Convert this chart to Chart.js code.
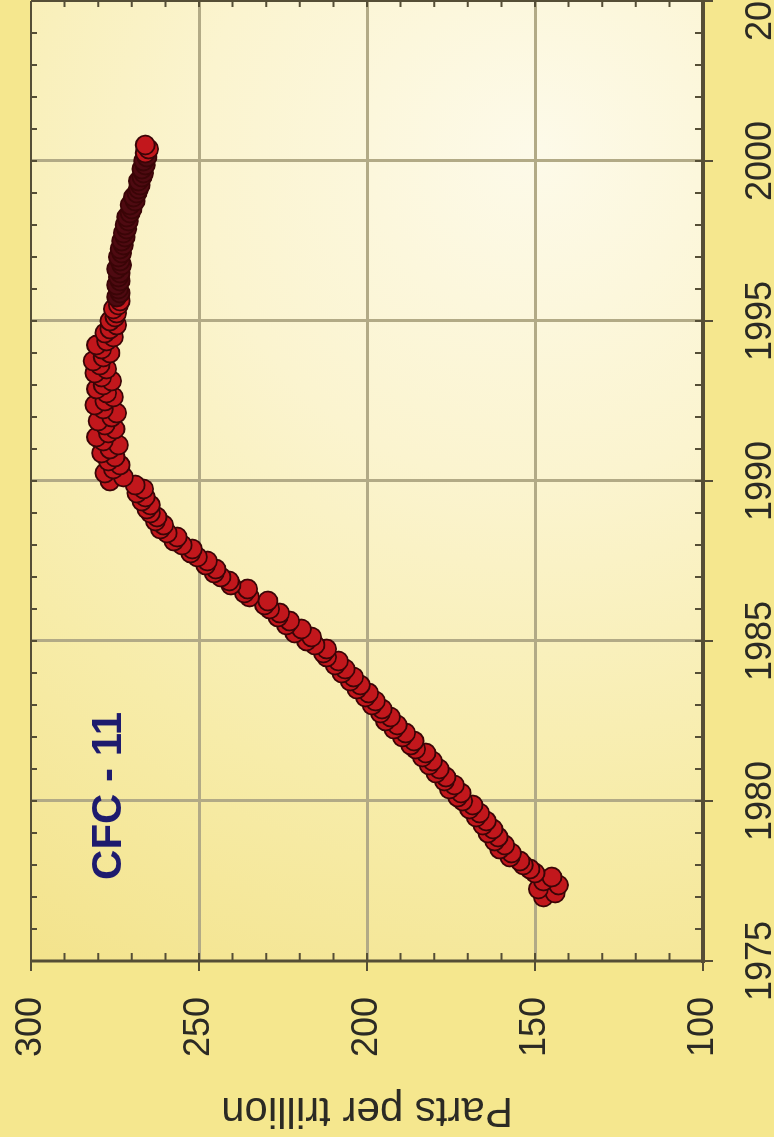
<!DOCTYPE html>
<html>
<head>
<meta charset="utf-8">
<script src="https://cdn.jsdelivr.net/npm/chart.js@4.4.1/dist/chart.umd.min.js"></script>
<style>
  html, body { margin: 0; padding: 0; width: 774px; height: 1137px; overflow: hidden; background: #f5e78e; }
  /* the chart is laid out landscape and turned a quarter turn counter-clockwise */
  #wrap { position: absolute; left: 0; top: 0; width: 1237px; height: 774px;
          transform-origin: 0 0; transform: translate(0, 1137px) rotate(-90deg); }
  canvas { display: block; }
</style>
</head>
<body>
<div id="wrap"><canvas id="cfc" width="1237" height="774"></canvas></div>
<script>
// CFC-11 mixing ratio (parts per trillion), 1977 - 2000.5, eighth-of-a-year samples

// growth years
const riseYears = [
  1977.000,1977.125,1977.250,1977.375,1977.500,1977.625,1977.750,1977.875,
  1978.000,1978.125,1978.250,1978.375,1978.500,1978.625,1978.750,1978.875,
  1979.000,1979.125,1979.250,1979.375,1979.500,1979.625,1979.750,1979.875,
  1980.000,1980.125,1980.250,1980.375,1980.500,1980.625,1980.750,1980.875,
  1981.000,1981.125,1981.250,1981.375,1981.500,1981.625,1981.750,1981.875,
  1982.000,1982.125,1982.250,1982.375,1982.500,1982.625,1982.750,1982.875,
  1983.000,1983.125,1983.250,1983.375,1983.500,1983.625,1983.750,1983.875,
  1984.000,1984.125,1984.250,1984.375,1984.500,1984.625,1984.750,1984.875,
  1985.000,1985.125,1985.250,1985.375,1985.500,1985.625,1985.750,1985.875,
  1986.000,1986.125,1986.250,1986.375,1986.500,1986.625,1986.750,1986.875,
  1987.000,1987.125,1987.250,1987.375,1987.500,1987.625,1987.750,1987.875,
  1988.000,1988.125,1988.250,1988.375,1988.500,1988.625,1988.750,1988.875,
  1989.000,1989.125,1989.250,1989.375,1989.500,1989.625,1989.750,1989.875
];
const risePpt = [
  147.5,144.0,149.0,143.0,147.5,145.0,150.0,151.5,
  153.5,154.5,157.5,157.0,160.5,159.0,162.0,161.0,
  164.0,162.5,165.5,164.5,167.5,166.5,169.5,168.5,
  171.5,173.0,172.0,175.5,174.0,177.0,176.5,179.5,
  178.5,181.5,180.5,183.5,182.5,185.5,187.0,186.0,
  189.5,188.5,192.0,191.0,194.5,193.0,196.0,195.5,
  198.5,197.5,200.5,199.5,203.0,202.0,205.0,204.0,
  207.5,206.5,209.5,208.5,212.0,213.0,212.0,215.5,
  218.0,216.5,221.5,219.5,224.0,223.0,226.5,226.0,
  229.0,230.5,229.5,235.0,236.5,235.5,240.5,241.0,
  243.5,245.5,245.0,248.0,247.5,250.5,252.5,252.0,
  255.0,257.5,256.5,259.5,261.5,260.5,263.0,262.5,
  264.5,265.5,264.5,267.0,266.0,268.5,266.5,269.0
];

// plateau years
const plateauYears = [
  1990.000,1990.125,1990.250,1990.375,1990.500,1990.625,1990.750,1990.875,
  1991.000,1991.125,1991.250,1991.375,1991.500,1991.625,1991.750,1991.875,
  1992.000,1992.125,1992.250,1992.375,1992.500,1992.625,1992.750,1992.875,
  1993.000,1993.125,1993.250,1993.375,1993.500,1993.625,1993.750,1993.875,
  1994.000,1994.125,1994.250,1994.375,1994.500,1994.625,1994.750,1994.875,
  1995.000,1995.125
];
const plateauPpt = [
  276.5,272.5,278.0,275.5,273.5,277.0,275.0,279.0,
  276.5,274.0,278.5,280.5,277.0,275.0,278.0,280.0,
  276.0,274.5,278.5,281.0,278.0,275.5,277.5,280.5,
  278.5,276.0,279.0,281.0,277.5,279.5,281.5,278.5,
  276.5,279.0,280.5,277.5,275.5,278.0,276.5,274.5,
  276.5,275.0
];

// slow decline years
const declineYears = [
  1995.250,1995.375,1995.500,1995.625,1995.750,1995.875,
  1996.000,1996.125,1996.250,1996.375,1996.500,1996.625,1996.750,1996.875,
  1997.000,1997.125,1997.250,1997.375,1997.500,1997.625,1997.750,1997.875,
  1998.000,1998.125,1998.250,1998.375,1998.500,1998.625,1998.750,1998.875,
  1999.000,1999.125,1999.250,1999.375,1999.500,1999.625,1999.750,1999.875,
  2000.000,2000.125,2000.250,2000.375,2000.500
];
const declinePpt = [
  274.5,275.5,274.0,273.5,274.5,273.5,
  274.0,274.5,273.5,274.0,273.5,274.5,273.0,273.5,
  274.0,273.0,273.5,272.5,273.0,272.0,272.5,271.5,
  272.0,271.0,271.5,270.5,270.0,270.5,269.0,269.5,
  268.5,268.0,267.5,268.0,267.0,266.5,267.0,266.0,
  266.5,265.5,266.0,265.0,266.0
];

// axis ranges and tick labels
const yearTicks = ['1975', '1980', '1985', '1990', '1995', '2000', '2005'];
const pptTicks = ['100', '150', '200', '250', '300'];
const yearRange = [1975, 2005];
const pptRange = [100, 300];
const seriesName = 'CFC - 11';
const axisTitle = 'Parts per trillion';

const years = riseYears.concat(plateauYears, declineYears);
const ppt = risePpt.concat(plateauPpt, declinePpt);
const points = years.map((yr, i) => ({ x: yr, y: ppt[i] }));

const INK = '#2b2a24';
const FRAME = '#554e36';
const GRID = '#b2aa86';
const FONT = '"Liberation Sans", Arial, Helvetica, sans-serif';

// page colour, plot-area wash, frame with tick marks and the series caption
const decor = {
  id: 'decor',
  beforeDraw(chart) {
    const { ctx, chartArea: a, scales: { x, y } } = chart;
    ctx.save();
    ctx.fillStyle = '#f5e78e';
    ctx.fillRect(0, 0, chart.width, chart.height);
    const cx = x.getPixelForValue(2000.3), cy = y.getPixelForValue(150);
    const g = ctx.createRadialGradient(cx, cy, 0, cx, cy, 950);
    g.addColorStop(0, '#fdfae9');
    g.addColorStop(0.35, '#fbf4cf');
    g.addColorStop(0.7, '#f7eca9');
    g.addColorStop(1, '#f3e38c');
    ctx.fillStyle = g;
    ctx.fillRect(a.left, a.top, a.right - a.left, a.bottom - a.top);
    ctx.restore();
  },
  beforeDatasetsDraw(chart) {
    const { ctx, chartArea: a, scales: { x, y } } = chart;
    ctx.save();
    ctx.strokeStyle = FRAME;
    ctx.lineCap = 'butt';
    // frame
    ctx.lineWidth = 2;
    ctx.beginPath();
    ctx.moveTo(a.left, a.top); ctx.lineTo(a.right, a.top);
    ctx.moveTo(a.right, a.top); ctx.lineTo(a.right, a.bottom);
    ctx.stroke();
    ctx.lineWidth = 4;
    ctx.beginPath();
    ctx.moveTo(a.left - 2, a.bottom); ctx.lineTo(a.right, a.bottom);
    ctx.stroke();
    ctx.lineWidth = 3;
    ctx.beginPath();
    ctx.moveTo(a.left, a.top); ctx.lineTo(a.left, a.bottom + 2);
    ctx.stroke();
    // yearly ticks on the time axis and along the opposite edge
    ctx.lineWidth = 2;
    ctx.beginPath();
    for (let yr = yearRange[0]; yr <= yearRange[1]; yr++) {
      const px = x.getPixelForValue(yr);
      const major = yr % 5 === 0;
      ctx.moveTo(px, a.bottom - 8);
      ctx.lineTo(px, a.bottom + (major ? 10 : 0));
      ctx.moveTo(px, a.top);
      ctx.lineTo(px, a.top + 6);
    }
    // ticks every 10 ppt on the value axis and along the opposite edge
    for (let v = pptRange[0]; v <= pptRange[1]; v += 10) {
      const py = y.getPixelForValue(v);
      const major = v % 50 === 0;
      ctx.moveTo(a.left - (major ? 10 : 0), py);
      ctx.lineTo(a.left + 8, py);
      ctx.moveTo(a.right, py);
      ctx.lineTo(a.right - 6, py);
    }
    ctx.stroke();
    // series caption
    ctx.fillStyle = '#1e1b6e';
    ctx.font = 'bold 42px ' + FONT;
    ctx.textAlign = 'center';
    ctx.textBaseline = 'middle';
    ctx.fillText(seriesName, x.getPixelForValue(1980.16), y.getPixelForValue(276.7));
    ctx.restore();
  }
};

new Chart(document.getElementById('cfc'), {
  type: 'scatter',
  data: {
    datasets: [{
      label: seriesName,
      data: points,
      pointRadius: 9.5,
      pointHoverRadius: 9.5,
      pointBorderWidth: 1.8,
      pointBorderColor: '#3a0507',
      pointBackgroundColor: (c) => {
        const yr = c.raw ? c.raw.x : 0;
        return (yr >= 1995.7 && yr <= 2000.2) ? '#4e0a11' : '#c2171c';
      }
    }]
  },
  options: {
    responsive: false,
    animation: false,
    events: [],
    layout: { padding: { top: 31, right: 101, bottom: 0, left: 0 } },
    plugins: { legend: { display: false }, tooltip: { enabled: false } },
    scales: {
      x: {
        type: 'linear',
        min: yearRange[0], max: yearRange[1],
        afterFit: (s) => { s.height = 71; s.paddingLeft = 0; s.paddingRight = 0; },
        afterBuildTicks: (s) => { s.ticks = yearTicks.map(t => ({ value: Number(t) })); },
        grid: {
          drawTicks: false,
          lineWidth: 3,
          color: (c) => (c.tick && c.tick.value > yearRange[0] && c.tick.value < yearRange[1]) ? GRID : 'rgba(0,0,0,0)'
        },
        border: { display: false },
        ticks: {
          autoSkip: false, maxRotation: 0, minRotation: 0, padding: 36,
          color: INK, font: { family: FONT, size: 36 },
          callback: (v) => yearTicks.find(t => Number(t) === v) || ''
        }
      },
      y: {
        type: 'linear',
        min: pptRange[0], max: pptRange[1],
        afterFit: (s) => { s.width = 176; s.paddingTop = 0; s.paddingBottom = 0; },
        afterBuildTicks: (s) => { s.ticks = pptTicks.map(t => ({ value: Number(t) })); },
        grid: {
          drawTicks: false,
          lineWidth: 3,
          color: (c) => (c.tick && c.tick.value > pptRange[0] && c.tick.value < pptRange[1]) ? GRID : 'rgba(0,0,0,0)'
        },
        border: { display: false },
        ticks: {
          padding: 36,
          color: INK, font: { family: FONT, size: 36 },
          callback: (v) => pptTicks.find(t => Number(t) === v) || ''
        },
        title: {
          display: true, text: axisTitle, color: INK,
          font: { family: FONT, size: 42 }, padding: { top: 2, bottom: 0 }
        }
      }
    }
  },
  plugins: [decor]
});
</script>
</body>
</html>
